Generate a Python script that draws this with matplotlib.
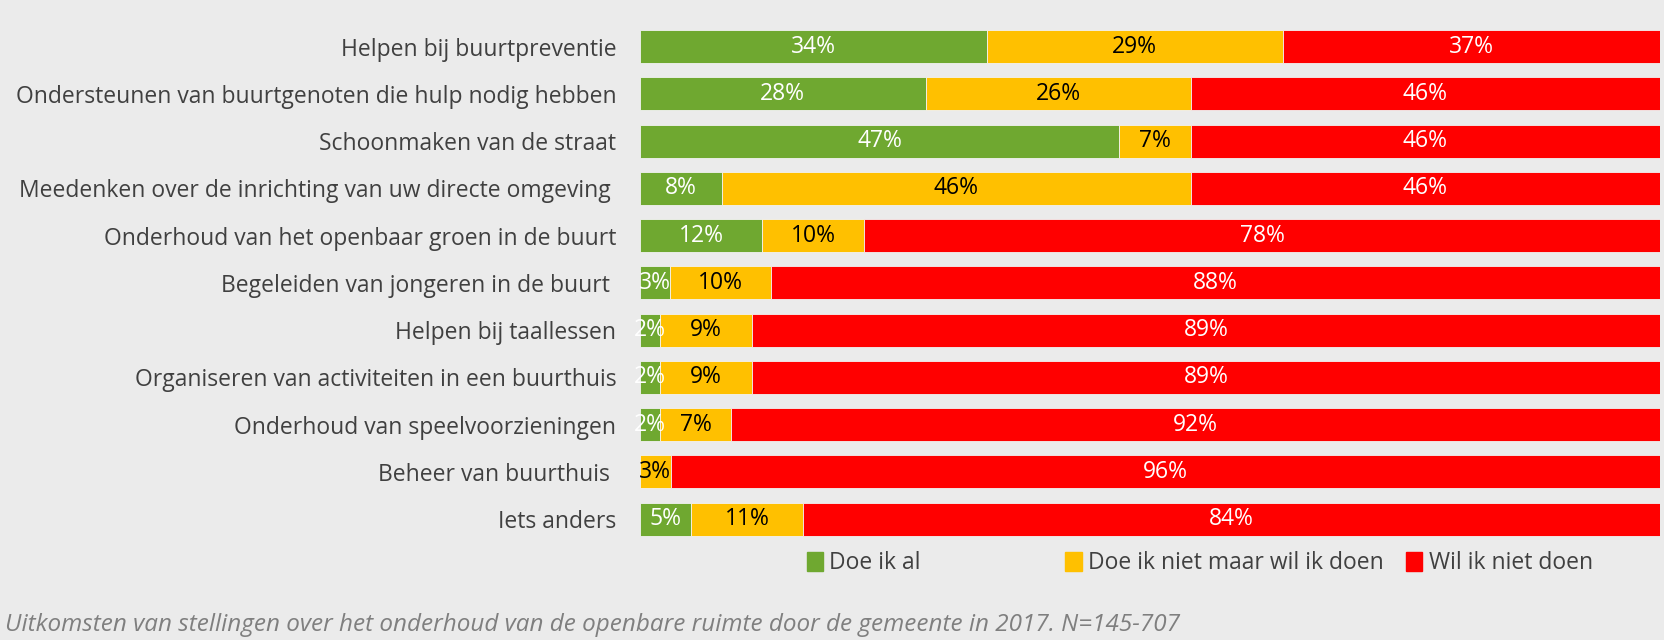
import matplotlib.pyplot as plt
from matplotlib.patches import Patch
import numpy as np

plt.rcParams['font.family'] = ['Open Sans', 'DejaVu Sans']

# Data
categories = [
    'Helpen bij buurtpreventie',
    'Ondersteunen van buurtgenoten die hulp nodig hebben',
    'Schoonmaken van de straat',
    'Meedenken over de inrichting van uw directe omgeving ',
    'Onderhoud van het openbaar groen in de buurt',
    'Begeleiden van jongeren in de buurt ',
    'Helpen bij taallessen',
    'Organiseren van activiteiten in een buurthuis',
    'Onderhoud van speelvoorzieningen',
    'Beheer van buurthuis ',
    'Iets anders',
]
doe_al = [34, 28, 47, 8, 12, 3, 2, 2, 2, 0, 5]
wil_doen = [29, 26, 7, 46, 10, 10, 9, 9, 7, 3, 11]
niet_doen = [37, 46, 46, 46, 78, 88, 89, 89, 92, 96, 84]
series_names = ['Doe ik al', 'Doe ik niet maar wil ik doen', 'Wil ik niet doen']
colors = ['#6FA830', '#FFC000', '#FF0000']
text_colors = ['white', 'black', 'white']

vals = np.array([doe_al, wil_doen, niet_doen], dtype=float)
shares = vals / vals.sum(axis=0) * 100

fig = plt.figure(figsize=(16.64, 6.4), dpi=100, facecolor='#EBEBEB')
ax = fig.add_axes([0.3846, 0.152, 0.613, 0.812])
ax.set_facecolor('#EBEBEB')

y = np.arange(len(categories))
left = np.zeros(len(categories))
for k in range(3):
    bars = ax.barh(y, shares[k], left=left, height=0.7, color=colors[k],
                   edgecolor='#F2F2F2', linewidth=0.6)
    for i, b in enumerate(bars):
        if vals[k, i] > 0:
            ax.text(left[i] + shares[k, i] / 2, y[i], f'{int(vals[k, i])}%',
                    ha='center', va='center', fontsize=16.5, color=text_colors[k])
    left += shares[k]

ax.set_xlim(0, 100)
ax.set_ylim(len(categories) - 0.5, -0.5)
ax.set_yticks(y)
ax.set_yticklabels(categories, fontsize=16.5, color='#404040')
ax.tick_params(axis='y', length=0, pad=17)
ax.set_xticks([])
for s in ax.spines.values():
    s.set_visible(False)

# legend entries placed like the original (uneven spacing)
leg_x = [0.4847, 0.6403, 0.8449]
for name, c, lx in zip(series_names, colors, leg_x):
    leg = fig.legend(handles=[Patch(color=c)], labels=[name], loc='center left',
                     bbox_to_anchor=(lx, 0.12), frameon=False, fontsize=16.5,
                     handlelength=0.7, handleheight=0.9, handletextpad=0.3,
                     borderpad=0, borderaxespad=0)
    for t in leg.get_texts():
        t.set_color('#404040')

fig.text(0.003, 0.004, 'Uitkomsten van stellingen over het onderhoud van de openbare ruimte door de gemeente in 2017. N=145-707',
         fontsize=17.5, style='italic', color='#7F7F7F', ha='left', va='bottom')

fig.savefig('out.png', dpi=100, facecolor=fig.get_facecolor())
